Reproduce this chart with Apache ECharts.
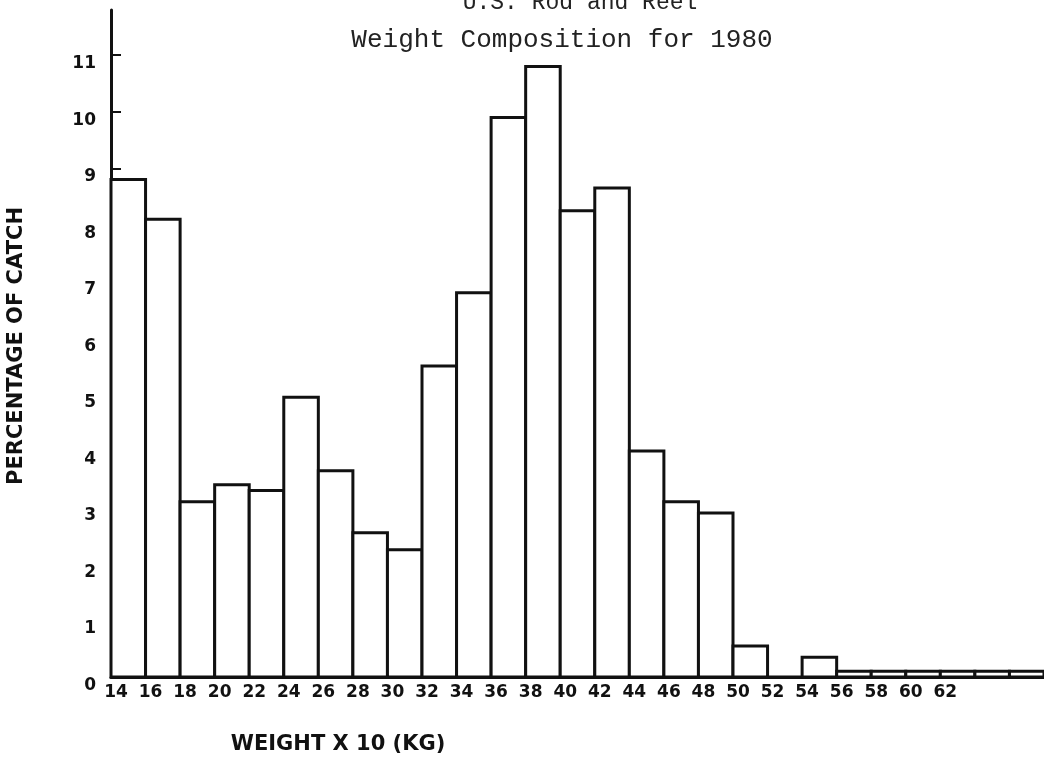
<!DOCTYPE html>
<html>
	<head>
		<meta charset="utf-8">
		<title>U.S. Rod and Reel Weight Composition for 1980</title>
		<script src="https://cdn.jsdelivr.net/npm/echarts@6.0.0/dist/echarts.min.js"></script>
		<style>
			html, body { margin: 0; padding: 0; background: #fff; }
			#chart { width: 1044px; height: 762px; }
		</style>
	</head>
	<body>
		<div id="chart"></div>
		<script>
			// 分组起点 (weight x 10 kg), each bin 2 wide
			var binStart = [14, 16, 18, 20, 22, 24, 26, 28, 30, 32, 34, 36, 38, 40, 42, 44, 46, 48, 50, 52, 54, 56, 58, 60, 62, 64, 66];
			var binWidth = 2;
			// percentage of catch per bin
			var percentCatch = [8.8, 8.1, 3.1, 3.4, 3.3, 4.95, 3.65, 2.55, 2.25, 5.5, 6.8, 9.9, 10.8, 8.25, 8.65, 4.0, 3.1, 2.9, 0.55, 0, 0.35, 0.1, 0.1, 0.1, 0.1, 0.1, 0.1];
			// tick labels
			var xTickLabels = [14, 16, 18, 20, 22, 24, 26, 28, 30, 32, 34, 36, 38, 40, 42, 44, 46, 48, 50, 52, 54, 56, 58, 60, 62];
			var yTickLabels = [0, 1, 2, 3, 4, 5, 6, 7, 8, 9, 10, 11];

			var barData = [];
			for (var i = 0; i < binStart.length; i++) {
				barData.push([binStart[i], binStart[i] + binWidth, percentCatch[i]]);
			}

			var chart = echarts.init(document.getElementById('chart'));
			var ink = '#111';

			var option = {
				backgroundColor: '#fff',
				animation: false,
				grid: {
					left: 111,
					right: 0,
					top: 10,
					bottom: 85
				},
				xAxis: {
					type: 'value',
					min: 14,
					max: 68,
					interval: 2,
					splitLine: { show: false },
					axisTick: { show: false },
					axisLine: { show: true, lineStyle: { color: ink, width: 3 } },
					axisLabel: {
						customValues: xTickLabels,
						margin: 7,
						color: ink,
						fontFamily: 'DejaVu Sans',
						fontWeight: 'bold',
						fontSize: 17,
						padding: [0, 0, 0, 10]
					}
				},
				yAxis: {
					type: 'value',
					min: 0,
					max: 11.8,
					splitLine: { show: false },
					axisLine: { show: true, lineStyle: { color: ink, width: 3 } },
					axisTick: {
						show: true,
						inside: true,
						length: 10,
						customValues: yTickLabels,
						lineStyle: { color: ink, width: 2 }
					},
					axisLabel: {
						customValues: yTickLabels,
						margin: 15,
						color: ink,
						fontFamily: 'DejaVu Sans',
						fontWeight: 'bold',
						fontSize: 17,
						verticalAlign: 'top'
					}
				},
				graphic: [
					{
						type: 'text',
						x: 580,
						y: 3,
						style: {
							text: 'U.S. Rod and Reel',
							font: '23px "Liberation Mono"',
							fill: '#222',
							textAlign: 'center',
							textVerticalAlign: 'middle'
						}
					},
					{
						type: 'text',
						x: 562,
						y: 40,
						style: {
							text: 'Weight Composition for 1980',
							font: '26px "Liberation Mono"',
							fill: '#222',
							textAlign: 'center',
							textVerticalAlign: 'middle'
						}
					},
					{
						type: 'text',
						x: 338,
						y: 745,
						style: {
							text: 'WEIGHT X 10 (KG)',
							font: 'bold 21px "DejaVu Sans"',
							fill: ink,
							textAlign: 'center',
							textVerticalAlign: 'middle'
						}
					},
					{
						type: 'text',
						x: 17,
						y: 346,
						rotation: Math.PI / 2,
						style: {
							text: 'PERCENTAGE OF CATCH',
							font: 'bold 21px "DejaVu Sans"',
							fill: ink,
							textAlign: 'center',
							textVerticalAlign: 'middle'
						}
					}
				],
				series: [{
					type: 'custom',
					data: barData,
					renderItem: function(params, api) {
						var p0 = api.coord([api.value(0), api.value(2)]);
						var p1 = api.coord([api.value(1), 0]);
						return {
							type: 'rect',
							shape: {
								x: p0[0],
								y: p0[1],
								width: p1[0] - p0[0],
								height: p1[1] - p0[1]
							},
							style: {
								fill: '#fff',
								stroke: ink,
								lineWidth: 3
							}
						};
					}
				}]
			};
			chart.setOption(option);
		</script>
	</body>
</html>
